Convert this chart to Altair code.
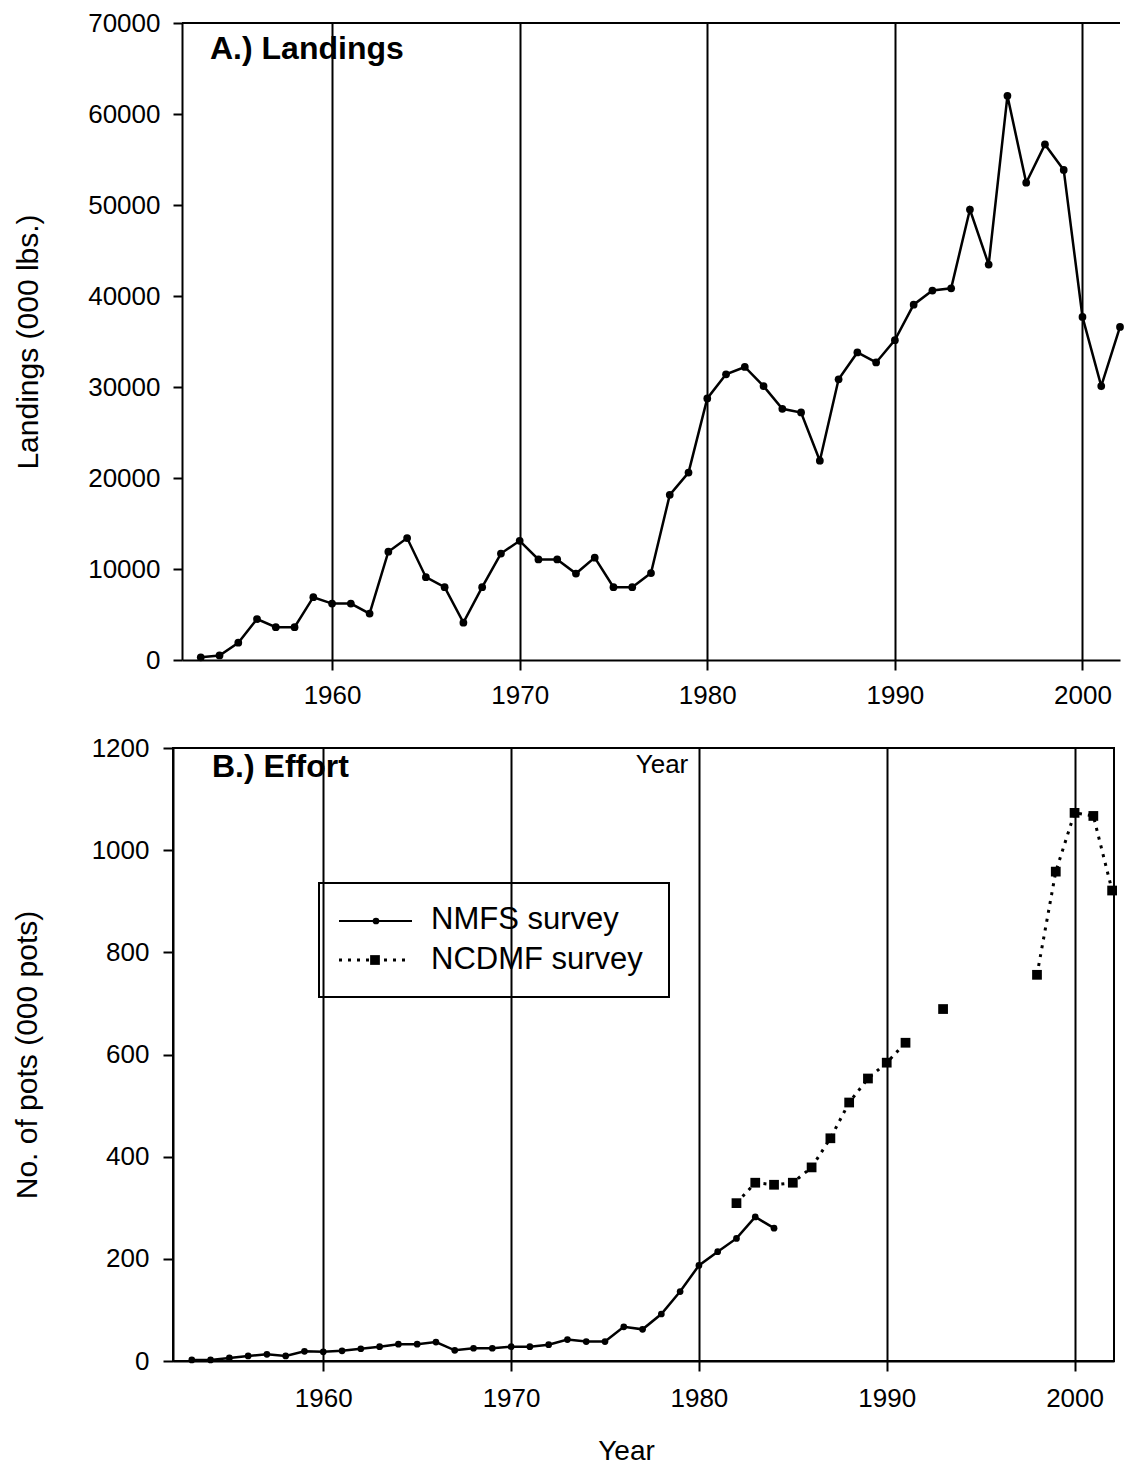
import altair as alt
import pandas as pd

# ---------------- data ----------------
land_years = list(range(1953, 2003))
landings = [300, 500, 1900, 4500, 3600, 3600, 6900, 6200, 6200, 5100,
            11900, 13400, 9100, 8000, 4100, 8000, 11700, 13100, 11050, 11050,
            9500, 11250, 8000, 8000, 9550, 18150, 20600, 28750, 31400, 32200,
            30100, 27600, 27200, 21900, 30850, 33800, 32700, 35150, 39050, 40600,
            40850, 49500, 43450, 62000, 52450, 56650, 53850, 37700, 30100, 36600]

nmfs_years = list(range(1953, 1985))
nmfs_pots = [2, 2, 6, 10, 13, 10, 19, 18, 20, 24,
             28, 33, 33, 37, 21, 25, 25, 28, 28, 32,
             42, 38, 38, 67, 62, 92, 136, 187, 214, 240,
             282, 260]

ncdmf_years = [1982, 1983, 1984, 1985, 1986, 1987, 1988, 1989, 1990, 1991,
               1993, 1998, 1999, 2000, 2001, 2002]
ncdmf_pots = [309, 349, 345, 349, 379, 436, 506, 553, 584, 623,
              689, 756, 958, 1073, 1067, 921]
ncdmf_run = ["a"] * 10 + ["b"] + ["c"] * 5  # runs of consecutive years joined by the dotted line

decades = [1960, 1970, 1980, 1990, 2000]
land_ticks = list(range(0, 70001, 10000))
pot_ticks = list(range(0, 1201, 200))

series_names = ["NMFS survey", "NCDMF survey"]

# ---------------- styling ----------------
FONT = "Liberation Sans"
SHIFT = 9                 # panel A's frame sits a little to the right of panel B's
TOP_W, TOP_H = 947, 637   # view width incl. the shift
BOT_W, BOT_H = 941, 613

land_df = pd.DataFrame({"year": land_years, "value": landings})
nmfs_df = pd.DataFrame({"year": nmfs_years, "pots": nmfs_pots})
ncdmf_df = pd.DataFrame({"year": ncdmf_years, "pots": ncdmf_pots, "run": ncdmf_run})
one = pd.DataFrame({"k": [0]})


def x_axis(label_pad, title=None, title_pad=0, title_x=None):
    kw = dict(values=decades, format="d", grid=True, gridColor="black", gridWidth=2,
              gridOpacity=1, domainColor="black", domainWidth=2, tickColor="black",
              tickWidth=2, tickSize=10, labelFontSize=26, labelColor="black",
              labelPadding=label_pad, labelFont=FONT)
    if title is None:
        kw["title"] = None
    else:
        kw.update(title=title, titleFontSize=28, titleFontWeight="normal",
                  titleColor="black", titleFont=FONT, titlePadding=title_pad)
        if title_x is not None:
            kw["titleX"] = title_x
    return alt.Axis(**kw)


def y_axis(title, values, tick, label_pad, title_pad, offset=0):
    return alt.Axis(values=values, format="d", grid=False, title=title,
                    domainColor="black", domainWidth=2, tickColor="black", tickWidth=2,
                    tickSize=tick, labelFontSize=26, labelColor="black", labelPadding=label_pad,
                    labelFont=FONT, titleFontSize=30, titleFontWeight="normal",
                    titleColor="black", titleFont=FONT, titlePadding=title_pad, offset=offset)


def text_at(txt, x, y, size, weight="normal", align="left"):
    return alt.Chart(one).mark_text(text=txt, fontSize=size, fontWeight=weight, font=FONT,
                                    align=align, baseline="middle", color="black").encode(
        x=alt.value(x), y=alt.value(y))


# ---------------- panel A: landings ----------------
xa = alt.X("year:Q", scale=alt.Scale(domain=[1952, 2002], range=[SHIFT, TOP_W],
                                     nice=False, zero=False),
           axis=x_axis(12))
ya = alt.Y("value:Q", scale=alt.Scale(domain=[0, 70000], nice=False),
           axis=y_axis("Landings (000 lbs.)", land_ticks, 9, 13, 44, offset=-SHIFT))

land_line = alt.Chart(land_df).mark_line(color="black", strokeWidth=2.5).encode(x=xa, y=ya)
land_pts = alt.Chart(land_df).mark_circle(color="black", size=60, opacity=1).encode(x=xa, y=ya)
top_border = alt.Chart(one).mark_rule(color="black", strokeWidth=2).encode(
    x=alt.value(SHIFT), x2=alt.value(TOP_W), y=alt.value(0))

panel_a = alt.layer(
    land_line, land_pts, top_border,
    text_at("A.) Landings", SHIFT + 28, 26, 32, weight="bold"),
).properties(width=TOP_W, height=TOP_H, view=alt.ViewBackground(stroke=None))

# ---------------- panel B: effort ----------------
xb = alt.X("year:Q", scale=alt.Scale(domain=[1952, 2002.1], nice=False, zero=False),
           axis=x_axis(14, title="Year", title_pad=26, title_x=453))
yb = alt.Y("pots:Q", scale=alt.Scale(domain=[0, 1200], nice=False),
           axis=y_axis("No. of pots (000 pots)", pot_ticks, 10, 14, 49))

nmfs_line = alt.Chart(nmfs_df).mark_line(color="black", strokeWidth=2.5).encode(x=xb, y=yb)
nmfs_pts = alt.Chart(nmfs_df).mark_circle(color="black", size=45, opacity=1).encode(x=xb, y=yb)
ncdmf_line = alt.Chart(ncdmf_df).mark_line(
    color="black", strokeWidth=3, strokeDash=[3, 6]).encode(x=xb, y=yb, detail="run:N")
ncdmf_pts = alt.Chart(ncdmf_df).mark_square(color="black", size=95, opacity=1).encode(x=xb, y=yb)

# legend (drawn by hand to match the boxed original)
leg_box = alt.Chart(one).mark_rect(fillOpacity=0, stroke="black", strokeWidth=2).encode(
    x=alt.value(146), x2=alt.value(496), y=alt.value(135), y2=alt.value(249))
leg_l1 = alt.Chart(one).mark_rule(color="black", strokeWidth=2).encode(
    x=alt.value(166), x2=alt.value(239), y=alt.value(173))
leg_p1 = alt.Chart(one).mark_circle(color="black", size=45, opacity=1).encode(
    x=alt.value(203), y=alt.value(173))
leg_l2 = alt.Chart(one).mark_rule(color="black", strokeWidth=3, strokeDash=[3, 6]).encode(
    x=alt.value(166), x2=alt.value(236), y=alt.value(212))
leg_p2 = alt.Chart(one).mark_square(color="black", size=95, opacity=1).encode(
    x=alt.value(202), y=alt.value(212))

panel_b = alt.layer(
    nmfs_line, nmfs_pts, ncdmf_line, ncdmf_pts,
    leg_box, leg_l1, leg_p1, leg_l2, leg_p2,
    text_at(series_names[0], 258, 172, 31),
    text_at(series_names[1], 258, 212, 31),
    text_at("B.) Effort", 39, 19, 32, weight="bold"),
    text_at("Year", 489, 17, 26, align="center"),
).properties(width=BOT_W, height=BOT_H,
             view=alt.ViewBackground(stroke="black", strokeWidth=2))

chart = alt.concat(panel_a, panel_b, columns=1, spacing=26).properties(
    padding={"left": 3, "top": 2, "right": 0, "bottom": 0}
).configure(font=FONT).configure_view(stroke="black")

chart.save("out.html", embed_options={"renderer": "svg", "actions": False})
